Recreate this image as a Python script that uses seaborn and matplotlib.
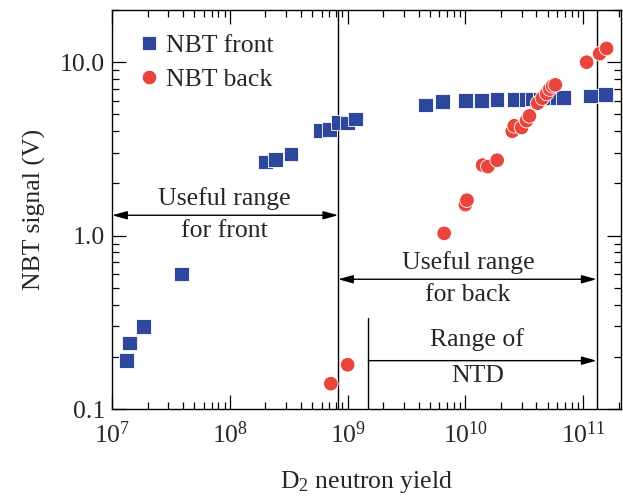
import numpy as np
import pandas as pd
import matplotlib
matplotlib.use("Agg")
import matplotlib.pyplot as plt
import matplotlib.ticker as mticker
import seaborn as sns

# NBT front (blue squares)
front_yield = [1.32e7, 1.4e7, 1.84e7, 3.87e7, 2.0e8, 2.44e8, 3.3e8, 5.8e8, 7.0e8,
               8.3e8, 1.0e9, 1.17e9, 4.6e9, 6.4e9, 1.0e10, 1.37e10, 1.85e10,
               2.6e10, 3.3e10, 3.7e10, 4.3e10, 5.0e10, 6.0e10, 6.8e10, 1.15e11, 1.55e11]
front_signal = [0.19, 0.24, 0.30, 0.60, 2.66, 2.75, 2.95, 4.05, 4.1,
                4.5, 4.45, 4.7, 5.65, 5.95, 6.0, 6.0, 6.1,
                6.1, 6.1, 6.15, 6.15, 6.2, 6.2, 6.25, 6.4, 6.5]

# NBT back (red circles)
back_yield = [7.2e8, 1.0e9, 6.6e9, 1.0e10, 1.03e10, 1.4e10, 1.55e10, 1.86e10,
              2.5e10, 2.6e10, 3.0e10, 3.3e10, 3.5e10, 4.1e10, 4.5e10, 4.9e10,
              5.2e10, 5.5e10, 5.8e10, 1.07e11, 1.38e11, 1.58e11]
back_signal = [0.14, 0.18, 1.03, 1.51, 1.6, 2.55, 2.5, 2.72,
               4.0, 4.3, 4.2, 4.6, 4.9, 5.8, 6.2, 6.6,
               7.0, 7.3, 7.4, 10.0, 11.2, 12.0]

# range boundaries
front_limit = 8.3e8
back_limit = 1.3e11
ntd_start = 1.5e9

df = pd.DataFrame({
    "yield": front_yield + back_yield,
    "signal": front_signal + back_signal,
    "series": ["NBT front"] * len(front_yield) + ["NBT back"] * len(back_yield),
})

sns.set_style("ticks")
plt.rcParams["font.family"] = ["Liberation Serif", "DejaVu Serif"]
plt.rcParams["mathtext.fontset"] = "custom"
plt.rcParams["mathtext.rm"] = "Liberation Serif"
plt.rcParams["mathtext.it"] = "Liberation Serif:italic"

fs = 18.5

fig = plt.figure(figsize=(6.23, 5.0), dpi=100)
ax = fig.add_axes([0.18, 0.182, 0.817, 0.798])

sns.scatterplot(data=df, x="yield", y="signal", hue="series", style="series",
                markers={"NBT front": "s", "NBT back": "o"},
                palette={"NBT front": "#2d479c", "NBT back": "#e8453c"},
                s=110, edgecolor="white", linewidth=0.6, ax=ax, zorder=3)

ax.set_xscale("log")
ax.set_yscale("log")
ax.set_xlim(1e7, 2.1e11)
ax.set_ylim(0.1, 20)

# vertical boundaries
ax.axvline(front_limit, color="black", lw=1.0, zorder=2)
ax.axvline(back_limit, color="black", lw=1.0, zorder=2)
ax.plot([ntd_start, ntd_start], [0.1, 0.335], color="black", lw=1.0)

arrow = dict(arrowstyle="<|-|>,head_length=0.9,head_width=0.25", color="black",
             lw=1.0, shrinkA=0, shrinkB=0)
ax.annotate("", xy=(1.0e7, 1.31), xytext=(front_limit, 1.31), arrowprops=arrow)
ax.annotate("", xy=(front_limit, 0.56), xytext=(back_limit, 0.56), arrowprops=arrow)
ax.annotate("", xy=(back_limit, 0.19), xytext=(ntd_start, 0.19),
            arrowprops=dict(arrowstyle="-|>,head_length=0.9,head_width=0.25",
                            color="black", lw=1.0, shrinkA=0, shrinkB=0))

ax.text(9e7, 1.64, "Useful range", ha="center", va="center", fontsize=fs)
ax.text(9e7, 1.07, "for front", ha="center", va="center", fontsize=fs)
ax.text(1.05e10, 0.70, "Useful range", ha="center", va="center", fontsize=fs)
ax.text(1.05e10, 0.455, "for back", ha="center", va="center", fontsize=fs)
ax.text(1.26e10, 0.25, "Range of", ha="center", va="center", fontsize=fs)
ax.text(1.26e10, 0.156, "NTD", ha="center", va="center", fontsize=fs)

ax.xaxis.set_major_locator(mticker.LogLocator(base=10, numticks=10))
ax.xaxis.set_major_formatter(mticker.LogFormatterMathtext())
ax.xaxis.set_minor_locator(mticker.LogLocator(base=10, subs=np.arange(2, 10), numticks=20))
ax.xaxis.set_minor_formatter(mticker.NullFormatter())
ax.yaxis.set_major_locator(mticker.FixedLocator([0.1, 1.0, 10.0]))
ax.yaxis.set_major_formatter(mticker.FixedFormatter(["0.1", "1.0", "10.0"]))
ax.yaxis.set_minor_locator(mticker.LogLocator(base=10, subs=np.arange(2, 10), numticks=20))
ax.yaxis.set_minor_formatter(mticker.NullFormatter())

ax.tick_params(which="both", direction="in", top=True, right=True, labelsize=fs,
               color="black", width=0.9)
ax.tick_params(which="major", length=10)
ax.tick_params(axis="x", which="major", pad=9)
ax.tick_params(axis="y", which="major", pad=5)
ax.tick_params(which="minor", length=5)
for sp in ax.spines.values():
    sp.set_color("black")
    sp.set_linewidth(1.0)

ax.set_xlabel("D$_2$ neutron yield", fontsize=fs, labelpad=15)
ax.set_ylabel("NBT signal (V)", fontsize=fs, labelpad=10)

leg = ax.legend(loc="upper left", bbox_to_anchor=(0.0, 1.0), frameon=False,
                fontsize=fs, handlelength=1.0, handletextpad=0.15,
                borderaxespad=0.7, borderpad=0.25, labelspacing=0.4)

fig.savefig("out.png", dpi=100)
